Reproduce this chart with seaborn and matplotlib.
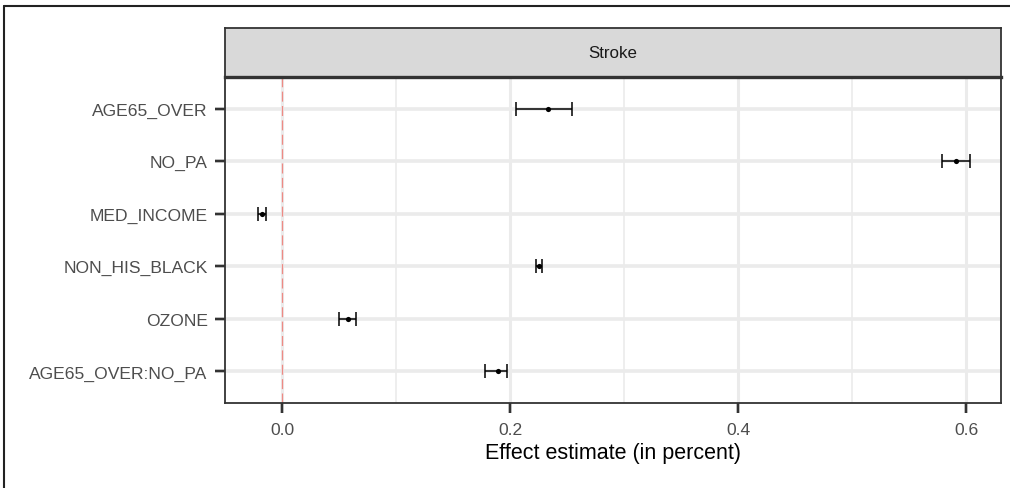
"""
Forest-style plot of effect estimates for Stroke, ggplot theme_bw look.
"""

import matplotlib
matplotlib.use("Agg")
import matplotlib.pyplot as plt
from matplotlib.lines import Line2D
import matplotlib.transforms as mtransforms
import numpy as np
import pandas as pd
import seaborn as sns

# ----------------------------
# DATA
# ----------------------------
terms = ["AGE65_OVER", "NO_PA", "MED_INCOME", "NON_HIS_BLACK", "OZONE", "AGE65_OVER:NO_PA"]
estimate = [0.2333, 0.591, -0.0178, 0.2253, 0.0580, 0.189]
lower = [0.205, 0.5787, -0.0210, 0.2226, 0.0495, 0.178]
upper = [0.254, 0.603, -0.0143, 0.2279, 0.0647, 0.1975]
x_ticks = [0.0, 0.2, 0.4, 0.6]
x_minor = [0.1, 0.3, 0.5]
panel_title = "Stroke"
x_label = "Effect estimate (in percent)"

df = pd.DataFrame({"term": terms, "est": estimate, "lo": lower, "hi": upper})

# ----------------------------
# STYLE
# ----------------------------
grid_col = "#EBEBEB"
dark = "#333333"
text_col = "#4D4D4D"

sns.set_theme(style="ticks")
plt.rcParams["font.family"] = ["Liberation Sans", "DejaVu Sans"]

W, H = 1010, 489
fig = plt.figure(figsize=(W / 100, H / 100), dpi=100)

# panel and strip positions in pixels
px_l, px_r, px_t, px_b = 225, 1001, 78, 404
strip_t = 29
ax = fig.add_axes([px_l / W, 1 - px_b / H, (px_r - px_l) / W, (px_b - px_t) / H])
sax = fig.add_axes([px_l / W, 1 - px_t / H, (px_r - px_l) / W, (px_t - strip_t) / H])

# ----------------------------
# PANEL
# ----------------------------
ypos = np.arange(len(terms))

for xm in x_minor:
    ax.axvline(xm, color=grid_col, lw=1.2, zorder=0)
for xt in x_ticks:
    ax.axvline(xt, color=grid_col, lw=2.2, zorder=0)
for yp in ypos:
    ax.axhline(yp, color=grid_col, lw=2.6, zorder=0)

ax.axvline(0, color="#EE8A84", lw=0.9, dashes=(8, 3.5), zorder=1)

ax.errorbar(df["est"], ypos, xerr=[df["est"] - df["lo"], df["hi"] - df["est"]],
            fmt="none", ecolor="black", elinewidth=1.1, capsize=4.8, capthick=1.1, zorder=3)
sns.scatterplot(x=df["est"], y=ypos, ax=ax, color="black", s=14, linewidth=0, zorder=4)

ax.set_xlim(-0.0503, 0.6305)
ax.set_ylim(len(terms) - 0.4, -0.6)
ax.set_yticks(ypos, terms)
ax.set_xticks(x_ticks, [f"{v:.1f}" for v in x_ticks])
ax.set_xlabel(x_label, fontsize=15.5, color="black", labelpad=4)
ax.set_ylabel("")
tick_len = 7.5
ax.tick_params(axis="both", which="major", direction="out", length=tick_len, width=1.7,
               color=dark, labelcolor=text_col, labelsize=12.6, left=True, bottom=True)
ax.tick_params(axis="x", pad=6)
ax.tick_params(axis="y", pad=5)
for sp in ax.spines.values():
    sp.set_visible(True)
    sp.set_color(dark)
    sp.set_linewidth(1.3)

# explicit tick marks (ggplot style, outside the panel)
tl_px = tick_len * 100 / 72
ty = mtransforms.blended_transform_factory(ax.transAxes, ax.transData)
tx = mtransforms.blended_transform_factory(ax.transData, ax.transAxes)
for yp in ypos:
    ax.plot([-tl_px / (px_r - px_l), 0], [yp, yp], transform=ty, color=dark,
            lw=1.7, clip_on=False, solid_capstyle="butt", zorder=5)
for xt in x_ticks:
    ax.plot([xt, xt], [-tl_px / (px_b - px_t), 0], transform=tx, color=dark,
            lw=1.7, clip_on=False, solid_capstyle="butt", zorder=5)

# ----------------------------
# STRIP
# ----------------------------
sax.set_facecolor("#D9D9D9")
sax.tick_params(left=False, bottom=False, labelleft=False, labelbottom=False)
for sp in sax.spines.values():
    sp.set_visible(True)
    sp.set_color(dark)
    sp.set_linewidth(1.3)
sax.spines["bottom"].set_linewidth(2.4)
sax.text(0.5, 0.5, panel_title, transform=sax.transAxes, ha="center", va="center",
         fontsize=12.2, color="#1A1A1A")

# outer frame of the screenshot (top and left edges)
fig.add_artist(Line2D([4 / W, 1], [1 - 7 / H, 1 - 7 / H], color="#222222", lw=1.5))
fig.add_artist(Line2D([4 / W, 4 / W], [0, 1 - 7 / H], color="#222222", lw=1.5))

fig.savefig("out.png", dpi=100)
